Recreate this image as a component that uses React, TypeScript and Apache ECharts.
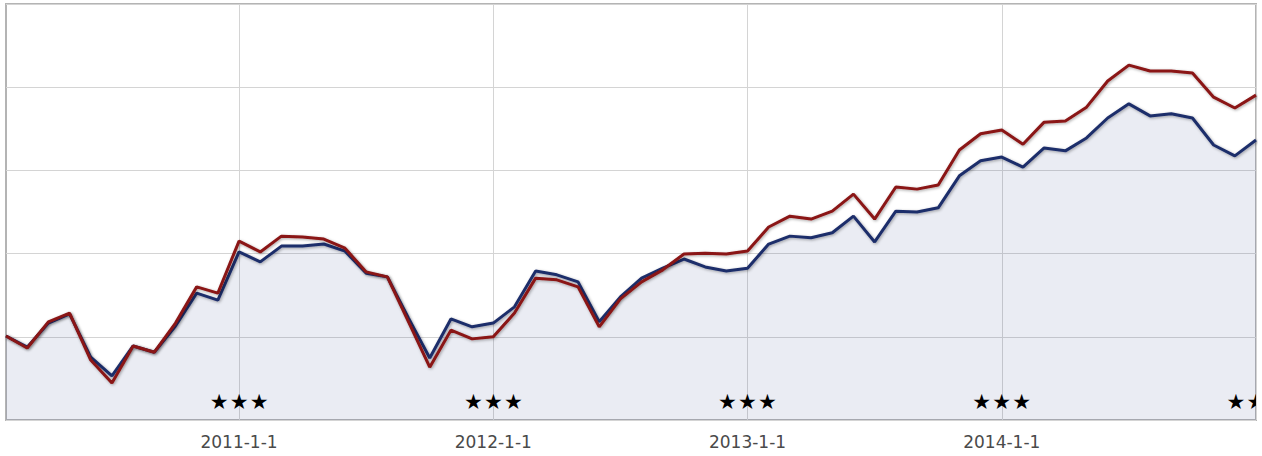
import React, { useEffect, useRef } from "react";
import * as echarts from "echarts";

// Monthly categories 2010-2-1 .. 2015-1-1
const months: string[] = [];
for (let y = 2010; y <= 2015; y++) {
  for (let m = 1; m <= 12; m++) {
    if ((y === 2010 && m < 2) || (y === 2015 && m > 1)) continue;
    months.push(`${y}-${m}-1`);
  }
}

const blueSeries = [
  20.2, 17.5, 23.3, 25.5, 15.1, 10.6, 17.8, 16.3, 22.6, 30.5, 28.8,
  40.4, 38.0, 41.8, 41.8, 42.3, 40.6, 35.3, 34.4, 24.5, 14.9, 24.3, 22.4,
  23.3, 27.2, 35.8, 34.9, 33.2, 23.6, 29.6, 34.1, 36.5, 38.7, 36.8, 35.8,
  36.5, 42.3, 44.2, 43.8, 45.0, 49.0, 42.8, 50.2, 50.0, 51.0, 58.7, 62.3,
  63.2, 60.8, 65.4, 64.7, 67.8, 72.6, 76.0, 73.1, 73.6, 72.6, 66.1, 63.5,
  67.3,
];

const redSeries = [
  20.2, 17.3, 23.6, 25.7, 14.4, 8.9, 17.8, 16.3, 23.3, 32.0, 30.5,
  43.0, 40.4, 44.2, 44.0, 43.5, 41.3, 35.6, 34.4, 23.6, 12.7, 21.6, 19.5,
  20.0, 25.7, 34.1, 33.7, 32.0, 22.4, 29.1, 33.2, 36.1, 39.9, 40.1, 39.9,
  40.6, 46.4, 49.0, 48.3, 50.2, 54.3, 48.3, 56.0, 55.5, 56.5, 64.9, 68.8,
  69.7, 66.3, 71.6, 71.9, 75.2, 81.5, 85.3, 83.9, 83.9, 83.4, 77.6, 75.0,
  78.1,
];

const starDates = ["2011-1-1", "2012-1-1", "2013-1-1", "2014-1-1", "2015-1-1"];
const starLevel = 4.3;

const yMin = 0;
const yMax = 100;
const yInterval = 20;

export default function App() {
  const ref = useRef<HTMLDivElement>(null);

  useEffect(() => {
    if (!ref.current) return;
    const chart = echarts.init(ref.current, undefined, { renderer: "svg" });
    const isYearStart = (_i: number, v: string) => /-1-1$/.test(v);

    chart.setOption({
      animation: false,
      backgroundColor: "#ffffff",
      grid: {
        left: 6,
        right: 6,
        top: 4,
        bottom: 36,
        show: true,
        borderColor: "#b4b4b4",
        borderWidth: 2,
        backgroundColor: "transparent",
      },
      xAxis: {
        type: "category",
        data: months,
        boundaryGap: false,
        axisLine: { show: false },
        axisTick: { show: false },
        axisLabel: {
          interval: isYearStart,
          color: "#4a4a4a",
          fontSize: 17,
          fontFamily: "DejaVu Sans",
          margin: 13,
          showMaxLabel: false,
        },
        splitLine: {
          show: true,
          interval: isYearStart,
          lineStyle: { color: "#d4d4d4", width: 1 },
        },
      },
      yAxis: {
        type: "value",
        min: yMin,
        max: yMax,
        interval: yInterval,
        axisLine: { show: false },
        axisTick: { show: false },
        axisLabel: { show: false },
        splitLine: { show: true, lineStyle: { color: "#d4d4d4", width: 1 } },
      },
      series: [
        {
          type: "line",
          data: blueSeries,
          symbol: "none",
          z: 2,
          lineStyle: {
            color: "#1d2d6b",
            width: 3,
            shadowColor: "rgba(0,0,0,0.35)",
            shadowBlur: 3,
            shadowOffsetX: 1,
            shadowOffsetY: 1,
          },
          areaStyle: { color: "rgba(40,60,130,0.14)", origin: "start" },
        },
        {
          type: "line",
          data: redSeries,
          symbol: "none",
          z: 3,
          lineStyle: {
            color: "#8a1414",
            width: 3,
            shadowColor: "rgba(0,0,0,0.35)",
            shadowBlur: 3,
            shadowOffsetX: 1,
            shadowOffsetY: 1,
          },
        },
        {
          type: "custom",
          clip: true,
          z: 4,
          data: starDates.map((d) => [d, starLevel]),
          renderItem: (_params: any, api: any) => {
            const p = api.coord([api.value(0), api.value(1)]);
            return {
              type: "group",
              children: [-20, 0, 20].map((dx) => ({
                type: "text",
                x: p[0] + dx,
                y: p[1],
                style: {
                  text: "★",
                  fill: "#000",
                  fontSize: 21,
                  fontFamily: "DejaVu Sans",
                  align: "center",
                  verticalAlign: "middle",
                },
              })),
            };
          },
        },
      ],
    });

    return () => chart.dispose();
  }, []);

  return (
    <div
      ref={ref}
      style={{ position: "fixed", left: 0, top: 0, width: 1262, height: 456 }}
    />
  );
}
